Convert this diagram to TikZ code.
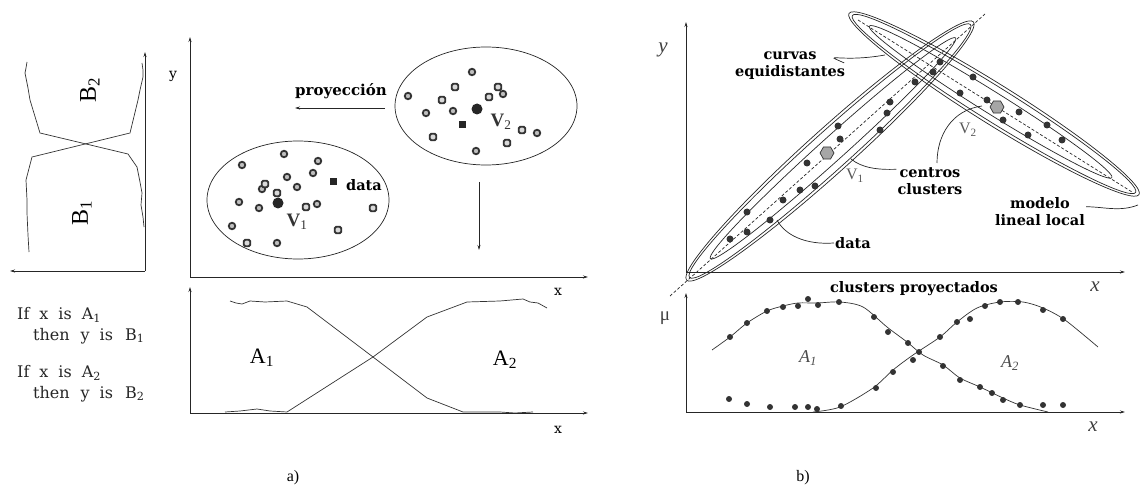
\documentclass[tikz,border=0pt]{standalone}
\usepackage{fontspec}
\setmainfont{Liberation Serif}
\newfontfamily\dvs{DejaVu Serif}
\usetikzlibrary{arrows.meta,shapes.geometric}
\begin{document}
\begin{tikzpicture}[x=1pt,y=-1pt,
  axis/.style={line width=0.8pt,black!85,-{Stealth[length=5pt,width=3pt]}},
  conn/.style={line width=0.7pt,black!85,-{Stealth[length=5pt,width=3pt]}},
  mf/.style={line width=0.7pt,black!80},
  blbl/.style={font=\dvs\fontsize{14.5}{17}\selectfont\bfseries,inner sep=1pt,align=center},
  rule/.style={font=\dvs\fontsize{16}{17}\selectfont,text=black!85,inner sep=0pt,anchor=west},
  dmc/.style={circle,draw=black!80,line width=1.8pt,fill=black!25,inner sep=0pt,minimum size=6.5pt},
  dms/.style={rectangle,rounded corners=1.5pt,draw=black!80,line width=1.8pt,fill=black!15,inner sep=0pt,minimum size=6.5pt},
  bigdot/.style={circle,fill=black!85,inner sep=0pt,minimum size=11pt},
  sqdot/.style={rectangle,fill=black!85,inner sep=0pt,minimum size=7pt},
  bdot/.style={circle,fill=black!80,inner sep=0pt,minimum size=7pt},
  ldot/.style={circle,fill=black!80,inner sep=0pt,minimum size=6pt},
  hexa/.style={regular polygon,regular polygon sides=6,draw=black!80,fill=black!35,line width=0.7pt,inner sep=0pt,minimum size=14pt},
  ell/.style={line width=0.7pt,black!85},
  lead/.style={line width=0.7pt,black!85}]
\useasboundingbox (0,0) rectangle (1143,489);

% ================= panel a) =================
% B panel
\draw[axis] (145,271) -- (10,271);
\draw[axis] (145,271) -- (145,52);
\draw[mf] (27,62) -- (26,68) -- (25,73) -- (28,88) -- (30,100) -- (40,133) -- (128,154) -- (137,167) -- (140,182) -- (142,193) -- (141,205) -- (143,217) -- (144,227);
\draw[mf] (142,63) -- (143,70) -- (143,77) -- (140,90) -- (138,100) -- (130,133) -- (32,157) -- (26,180) -- (27,200) -- (27,213) -- (28,235) -- (29,252);
\node[font=\fontsize{24}{24}\selectfont,rotate=90] (B2) at (90,90) {B\textsubscript{2}};
\node[font=\fontsize{24}{24}\selectfont,rotate=90] (B1) at (82,213) {B\textsubscript{1}};

% rules
\node[rule] (r1) at (17,315) {If\hspace{10pt}x\hspace{10pt}is\hspace{10pt}A\textsubscript{1}};
\node[rule] (r2) at (33,336) {then\hspace{11pt}y\hspace{10pt}is\hspace{12pt}B\textsubscript{1}};
\node[rule] (r3) at (17,373) {If\hspace{10pt}x\hspace{10pt}is\hspace{10pt}A\textsubscript{2}};
\node[rule] (r4) at (33,394) {then\hspace{11pt}y\hspace{10pt}is\hspace{12pt}B\textsubscript{2}};

% upper plot
\draw[axis] (190,277) -- (588,277);
\draw[axis] (190,277) -- (190,37);
\node[font=\dvs\fontsize{14}{14}\selectfont] (ya) at (173,76) {y};
\node[font=\dvs\fontsize{14}{14}\selectfont] (xa) at (558,292) {x};

\draw[ell] (298,200) ellipse (91 and 59);
\draw[ell] (486,106) ellipse (91 and 59);

\foreach \p [count=\i] in {(242,165),(284,154),(318,161),(287,177),(313,173),(262,189),(297,187),(239,202),(259,208),(317,204),(232,226),(277,243)}
  \node[dmc] (ma\i) at \p {};
\foreach \p [count=\i] in {(265,184),(277,193),(306,207),(373,208),(338,230),(247,243)}
  \node[dms] (mb\i) at \p {};
\foreach \p [count=\i] in {(472,72),(408,96),(426,113),(453,111),(503,94),(537,133),(476,151)}
  \node[dmc] (mc\i) at \p {};
\foreach \p [count=\i] in {(455,87),(498,87),(442,100),(489,97),(433,137),(522,130),(507,143)}
  \node[dms] (md\i) at \p {};

\node[bigdot] (v1) at (278,203) {};
\node[bigdot] (v2) at (477,109) {};
\node[sqdot] (sq1) at (333,182) {};
\node[sqdot] (sq2) at (462,125) {};
\node[font=\fontsize{19}{19}\selectfont\bfseries,text=black!80] (v1l) at (297,222) {V\textsubscript{\mdseries 1}};
\node[font=\fontsize{19}{19}\selectfont\bfseries,text=black!80] (v2l) at (501,122) {V\textsubscript{\mdseries 2}};
\node[blbl] (dataa) at (364,185) {data};
\node[blbl,font=\dvs\fontsize{15}{17}\selectfont\bfseries] (proy) at (341,91) {proyección};
\coordinate (pa) at (385,108);
\coordinate (pb) at (295,108);
\draw[conn] (pa) -- (pb);
\coordinate (da) at (479,182);
\coordinate (db) at (479,250);
\draw[conn] (da) -- (db);

% lower plot
\draw[axis] (190,413) -- (588,413);
\draw[axis] (190,413) -- (190,287);
\node[font=\dvs\fontsize{14}{14}\selectfont] (xa2) at (558,430) {x};
\draw[mf] (230,301) -- (236,303) -- (242,304) -- (250,301) -- (265,302) -- (287,301) -- (307,307) -- (373,357) -- (427,398) -- (463,412) -- (500,412) -- (515,413) -- (533,412);
\draw[mf] (225,412) -- (240,411) -- (257,409) -- (270,411) -- (287,412) -- (373,357) -- (427,317) -- (467,302) -- (500,301) -- (523,299) -- (530,302) -- (538,303) -- (547,308);
\node[font=\fontsize{22}{22}\selectfont] (A1a) at (262,358) {A\textsubscript{1}};
\node[font=\fontsize{22}{22}\selectfont] (A2a) at (505,360) {A\textsubscript{2}};

\node[font=\fontsize{16}{16}\selectfont] (la) at (293,478) {a)};

% ================= panel b) =================
\draw[axis] (686,272) -- (1125,272);
\draw[axis] (686,272) -- (686,22);
\node[font=\fontsize{21}{21}\selectfont\itshape,text=black!75] (yb) at (663,50) {y};
\node[font=\fontsize{21}{21}\selectfont\itshape,text=black!75] (xb) at (1095,287) {x};

% cluster 1
\begin{scope}[rotate around={42:(830,151)}]
  \draw[ell] (830,151) ellipse (193 and 22);
  \draw[ell] (830,151) ellipse (189 and 19);
  \draw[ell] (834,151) ellipse (165 and 12);
\end{scope}
\coordinate (c1a) at (670,296);
\coordinate (c1b) at (985,14);
\draw[ell,dashed,dash pattern=on 3pt off 2pt] (c1a) -- (c1b);
% cluster 2
\begin{scope}[rotate around={-32:(994,104)}]
  \draw[ell] (994,104) ellipse (171 and 20);
  \draw[ell] (994,104) ellipse (167 and 17);
  \draw[ell] (990,104) ellipse (143 and 11);
\end{scope}
\coordinate (c2a) at (858,20);
\coordinate (c2b) at (1132,192);
\draw[ell,dashed,dash pattern=on 3pt off 2pt] (c2a) -- (c2b);

\foreach \p [count=\i] in {(730,239),(747,232),(747,212),(770,220),(783,200),(800,190),(815,186),(807,163),(840,139),(838,126),(880,130),(887,113),(890,102),(915,82),(933,72),(940,62)}
  \node[bdot] (e\i) at \p {};
\foreach \p [count=\i] in {(973,77),(960,93),(987,100),(1003,120),(1019,112),(1028,135),(1047,125),(1062,140)}
  \node[bdot] (f\i) at \p {};
\node[hexa] (hv1) at (827,153) {};
\node[hexa] (hv2) at (997,107) {};

\node[blbl] (curvas) at (790,66) {curvas\\equidistantes};
\node[blbl] (centros) at (930,181) {centros\\clusters};
\node[blbl] (datab) at (853,243) {data};
\node[blbl] (modelo) at (1040,212) {modelo\\lineal local};
\node[font=\fontsize{16}{16}\selectfont,text=black!65] (V1b) at (855,176) {V\textsubscript{1}};
\node[font=\fontsize{16}{16}\selectfont,text=black!65] (V2b) at (968,130) {V\textsubscript{2}};

\coordinate (lc) at (885,55);
\draw[lead] (curvas.north east) ++(-2,12) coordinate (lc0) .. controls (820,52) and (840,63) .. (lc);
\coordinate (lv1) at (851,159);
\draw[lead] (centros.north west) ++(0,3) .. controls (878,170) and (862,168) .. (lv1);
\coordinate (lv2) at (982,106);
\draw[lead] (937,163) .. controls (937,135) and (952,110) .. (lv2);
\coordinate (ld) at (777,220);
\draw[lead] (datab.west) .. controls (805,245) and (785,235) .. (ld);
\coordinate (lm) at (1138,205);
\draw[lead] (modelo.north east) ++(0,10) .. controls (1105,207) and (1120,212) .. (lm);

% lower plot
\draw[axis] (686,412) -- (1125,412);
\draw[axis] (686,412) -- (686,293);
\node[font=\fontsize{19}{19}\selectfont,text=black!75] (mu) at (665,318) {μ};
\node[font=\fontsize{21}{21}\selectfont\itshape,text=black!75] (xb2) at (1093,427) {x};
\node[blbl] (clp) at (914,289) {clusters proyectados};

\draw[mf] plot[smooth,tension=0.5] coordinates {(712,350) (730,337) (747,323) (767,311) (783,306) (798,303) (817,303) (840,302) (863,307) (887,327) (907,342) (923,355) (943,365) (960,378) (980,387) (1003,398) (1020,405) (1048,412)};
\draw[mf] plot[smooth,tension=0.5] coordinates {(813,412) (840,407) (873,388) (893,370) (913,355) (940,337) (957,322) (977,308) (1000,302) (1023,302) (1043,308) (1065,320) (1098,347)};

\foreach \p [count=\i] in {(730,337),(747,323),(767,311),(783,307),(798,306),(808,299),(818,305),(839,302),(874,317),(888,332),(908,343),(943,366),(960,380),(980,387),(992,393),(1003,400),(1020,405),(1043,405),(1063,405)}
  \node[ldot] (g\i) at \p {};
\foreach \p [count=\i] in {(729,399),(747,404),(770,407),(795,407),(808,407),(817,409),(841,406),(876,388),(893,372),(913,360),(919,352),(940,337),(957,322),(970,319),(985,306),(1000,302),(1018,302),(1043,310),(1063,319)}
  \node[ldot] (h\i) at \p {};

\node[font=\fontsize{18}{18}\selectfont\itshape,text=black!70] (A1b) at (808,358) {A\textsubscript{1}};
\node[font=\fontsize{18}{18}\selectfont\itshape,text=black!70] (A2b) at (1010,363) {A\textsubscript{2}};

\node[font=\fontsize{16}{16}\selectfont] (lb) at (803,478) {b)};
\end{tikzpicture}
\end{document}
